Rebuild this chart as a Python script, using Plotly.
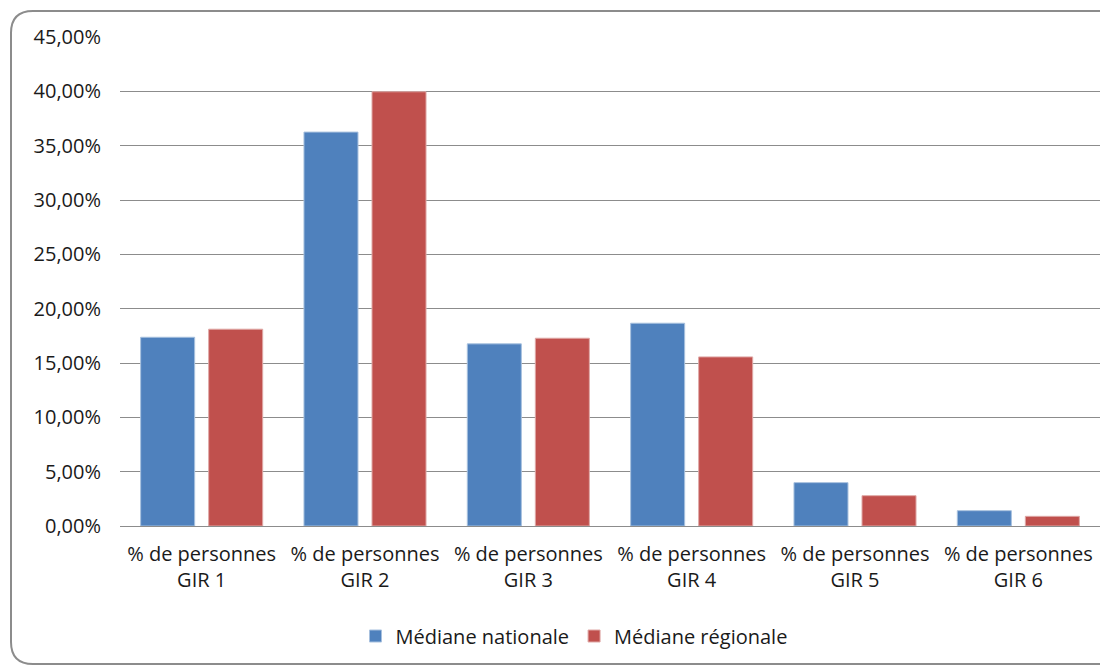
import plotly.graph_objects as go

categories = ["% de personnes<br>GIR 1", "% de personnes<br>GIR 2", "% de personnes<br>GIR 3",
              "% de personnes<br>GIR 4", "% de personnes<br>GIR 5", "% de personnes<br>GIR 6"]
nationale = [0.1737, 0.3625, 0.1676, 0.1866, 0.0399, 0.0141]
regionale = [0.1811, 0.3996, 0.1728, 0.1556, 0.0279, 0.0089]
series_names = ["Médiane nationale", "Médiane régionale"]
tick_vals = [0, 0.05, 0.10, 0.15, 0.20, 0.25, 0.30, 0.35, 0.40, 0.45]

# page has an 8px body margin: compensate so page coordinates match the reference
OFF = 8
W, H = 1108 - OFF, 667 - OFF
L, R, T, B = 120 - OFF, 8, 37 - OFF, 141
pw = W - L - R
ph = H - T - B

fig = go.Figure()
fig.add_trace(go.Bar(x=categories, y=nationale, name=series_names[0],
                     marker=dict(color="#4F81BD", line=dict(color="#A7C0DE", width=1))))
fig.add_trace(go.Bar(x=categories, y=regionale, name=series_names[1],
                     marker=dict(color="#C0504D", line=dict(color="#DFA8A6", width=1))))

def px2x(p):  # page pixel -> paper
    return (p - OFF - L) / pw

def px2y(p):
    return (H - B - (p - OFF)) / ph

# rounded chart border
x0, x1, y0, y1, r = 11, 1120, 11, 664, 22
path = (f"M {px2x(x0+r)},{px2y(y0)} L {px2x(x1-r)},{px2y(y0)} "
        f"Q {px2x(x1)},{px2y(y0)} {px2x(x1)},{px2y(y0+r)} "
        f"L {px2x(x1)},{px2y(y1-r)} Q {px2x(x1)},{px2y(y1)} {px2x(x1-r)},{px2y(y1)} "
        f"L {px2x(x0+r)},{px2y(y1)} Q {px2x(x0)},{px2y(y1)} {px2x(x0)},{px2y(y1-r)} "
        f"L {px2x(x0)},{px2y(y0+r)} Q {px2x(x0)},{px2y(y0)} {px2x(x0+r)},{px2y(y0)} Z")
fig.add_shape(type="path", path=path, xref="paper", yref="paper",
              line=dict(color="#8C8C8C", width=2), layer="above")

font_family = "Open Sans, Noto Sans, sans-serif"
FS = 20
fig.update_layout(
    width=W, height=H,
    margin=dict(l=L, r=R, t=T, b=B, autoexpand=False),
    paper_bgcolor="white", plot_bgcolor="white",
    separators=", ",
    barmode="group", bargap=0.167, bargroupgap=0.206,
    font=dict(family=font_family, size=FS, color="#1a1a1a"),
    showlegend=True,
    legend=dict(orientation="h", x=px2x(574), y=px2y(636), xanchor="center", yanchor="middle",
                font=dict(size=FS, color="#1a1a1a"), itemwidth=30, traceorder="normal",
                bgcolor="rgba(0,0,0,0)"),
)
fig.update_yaxes(range=[0, 0.45], tickvals=tick_vals, tickformat=".2%",
                 showgrid=True, gridcolor="#8C8C8C", gridwidth=1,
                 zeroline=False, showline=False, ticks="", ticklabelstandoff=18,
                 tickfont=dict(size=FS, color="#1a1a1a"))
fig.update_xaxes(showline=True, linecolor="#8C8C8C", linewidth=1, ticks="",
                 tickfont=dict(size=FS, color="#1a1a1a"), ticklabelstandoff=10)

fig.write_html("out.html")
